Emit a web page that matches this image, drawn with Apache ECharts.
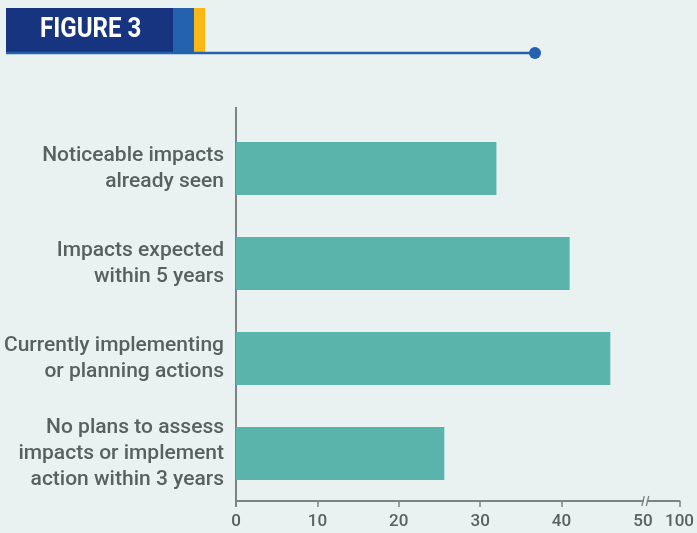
<!DOCTYPE html>
<html>
<head>
<meta charset="utf-8">
<script src="https://cdn.jsdelivr.net/npm/echarts@6/dist/echarts.min.js"></script>
<style>
html,body{margin:0;padding:0;background:#e9f2f1;}
#c{width:697px;height:533px;}
</style>
</head>
<body>
<div id="c"></div>
<script>
const categories = [
  'Noticeable impacts\nalready seen',
  'Impacts expected\nwithin 5 years',
  'Currently implementing\nor planning actions',
  'No plans to assess\nimpacts or implement\naction within 3 years'
];
const values = [32.0, 41.0, 46.0, 25.6];
const xTickValues = [0, 10, 20, 30, 40, 50, 54.5];
const xTickLabels = ['0', '10', '20', '30', '40', '50', '100'];
const xTickMarks = [0, 10, 20, 30, 40, 54.5];
const breakValue = 50.3;

const chart = echarts.init(document.getElementById('c'), null, {renderer: 'canvas'});
const font = 'Roboto, "Noto Sans", sans-serif';
const header = [
  {type: 'rect', shape: {x: 6, y: 8, width: 167, height: 44}, style: {fill: '#16347f'}},
  {type: 'rect', shape: {x: 173, y: 8, width: 21, height: 44}, style: {fill: '#2461ae'}},
  {type: 'rect', shape: {x: 194, y: 8, width: 11, height: 44}, style: {fill: '#fbb814'}},
  {type: 'line', shape: {x1: 6, y1: 53, x2: 535, y2: 53}, style: {stroke: '#2461ae', lineWidth: 2.5}},
  {type: 'circle', shape: {cx: 535, cy: 53, r: 6}, style: {fill: '#2461ae'}},
  {type: 'text', x: 40, y: 30, scaleX: 0.86, originX: 0,
   style: {text: 'FIGURE 3', fill: '#ffffff', font: 'bold 28px Roboto, sans-serif', textAlign: 'left', textVerticalAlign: 'middle'}}
];
chart.setOption({
  backgroundColor: '#e9f2f1',
  animation: false,
  grid: {left: 236, right: 16, top: 121, bottom: 32, containLabel: false},
  xAxis: {
    type: 'value', min: 0, max: 54.5,
    splitLine: {show: false},
    axisLine: {show: true, lineStyle: {color: '#7d8282', width: 2}},
    axisTick: {show: true, length: 6, lineStyle: {color: '#7d8282', width: 1.5}, customValues: xTickMarks},
    axisLabel: {
      customValues: xTickValues,
      formatter: v => xTickLabels[xTickValues.indexOf(v)],
      color: '#5a5f5f', fontSize: 17, fontWeight: 500, fontFamily: font, margin: 12
    }
  },
  yAxis: {
    type: 'category', data: categories, inverse: true,
    axisLine: {show: true, lineStyle: {color: '#7d8282', width: 2}},
    axisTick: {show: false},
    axisLabel: {color: '#5a5f5f', fontSize: 21, fontWeight: 500, fontFamily: font, lineHeight: 26, margin: 12, align: 'right'}
  },
  series: [{
    type: 'bar', data: values, barWidth: 53,
    itemStyle: {color: '#5ab4ab'}
  }],
  graphic: header
});

// axis extension above grid and break marks, positioned via the chart's own scales
const rect = chart.getModel().getComponent('grid').coordinateSystem.getRect();
const bx = chart.convertToPixel({xAxisIndex: 0}, breakValue);
const ay = rect.y + rect.height;
chart.setOption({
  graphic: header.concat([
    {type: 'line', shape: {x1: rect.x, y1: 107, x2: rect.x, y2: rect.y}, style: {stroke: '#7d8282', lineWidth: 2}},
    {type: 'line', shape: {x1: rect.x, y1: ay, x2: rect.x, y2: ay + 6}, style: {stroke: '#7d8282', lineWidth: 2}},
    {type: 'rect', shape: {x: bx - 1.5, y: ay - 2, width: 3, height: 4}, style: {fill: '#e9f2f1'}, z: 100},
    {type: 'line', shape: {x1: bx - 3.5, y1: ay + 5, x2: bx - 1, y2: ay - 5}, style: {stroke: '#7d8282', lineWidth: 1.3}, z: 101},
    {type: 'line', shape: {x1: bx + 1, y1: ay + 5, x2: bx + 3.5, y2: ay - 5}, style: {stroke: '#7d8282', lineWidth: 1.3}, z: 101}
  ])
});
</script>
</body>
</html>
